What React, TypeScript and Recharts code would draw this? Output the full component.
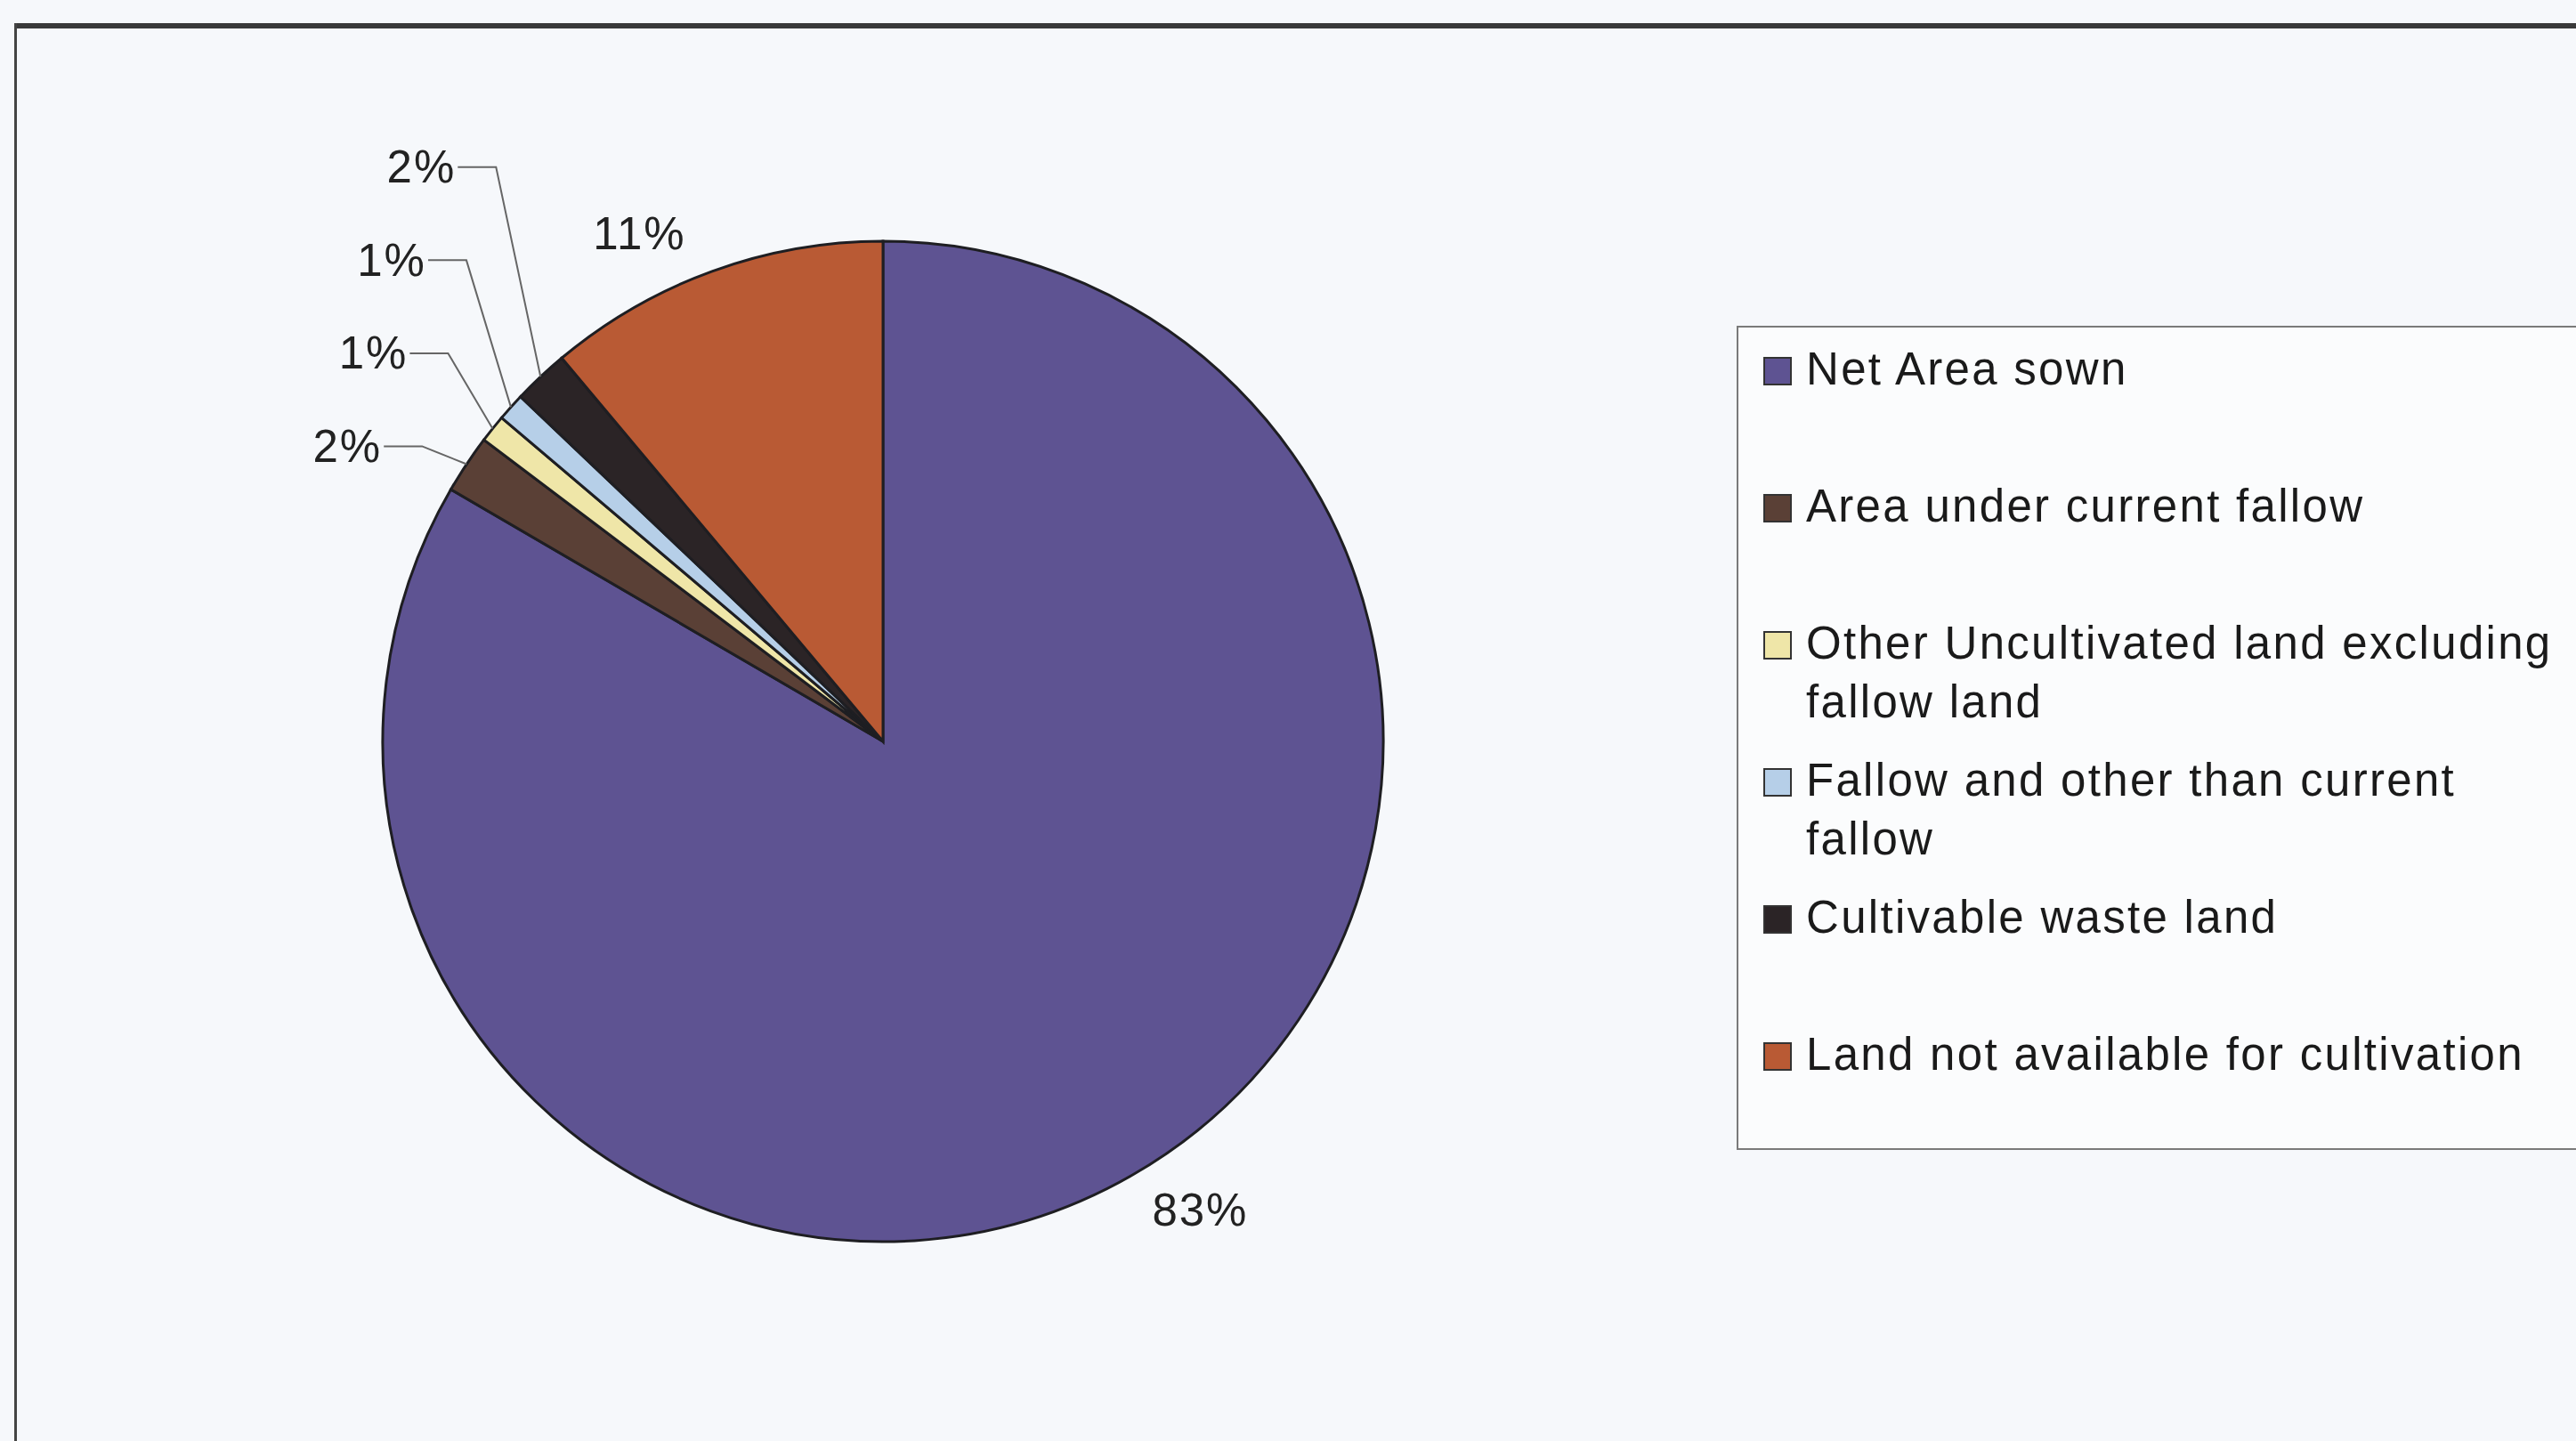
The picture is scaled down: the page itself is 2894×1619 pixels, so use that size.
import React from 'react';
import { PieChart, Pie, Cell, Legend } from 'recharts';

const categories = [
  'Net Area sown',
  'Area under current fallow',
  'Other Uncultivated land excluding fallow land',
  'Fallow and other than current fallow',
  'Cultivable waste land',
  'Land not available for cultivation',
];
const shares = [83.4, 1.9, 0.9, 0.9, 1.8, 11.1];
const colors = ['#5e5392', '#5a4036', '#efe6a8', '#b6cfe8', '#2b2426', '#b95a34'];

const data = categories.map((name, i) => ({ name, value: shares[i] }));

const RAD = Math.PI / 180;
const FONT = '"Liberation Sans", Arial, sans-serif';

const renderLabel = (props: any) => {
  const { cx, cy, midAngle, outerRadius, percent, index } = props;
  const text = `${Math.round(percent * 100)}%`;
  const cos = Math.cos(-midAngle * RAD);
  const sin = Math.sin(-midAngle * RAD);

  if (percent >= 0.05) {
    const r = outerRadius * 1.08;
    const left = cos < 0;
    return (
      <text
        x={cx + r * cos + (left ? -14 : 0)}
        y={cy + r * sin}
        textAnchor={left ? 'end' : 'start'}
        dominantBaseline="central"
        fill="#222"
        fontSize={51}
        letterSpacing={2}
        fontFamily={FONT}
      >
        {text}
      </text>
    );
  }

  // small slices: stacked to the upper left with elbow leader lines
  const k = index - 1;
  const rimX = cx + outerRadius * cos;
  const rimY = cy + outerRadius * sin;
  const ly = cy - outerRadius * (0.59 + 0.186 * k);
  const elbowX = rimX - 50;
  const textX = elbowX - 45;
  return (
    <g>
      <polyline
        points={`${textX + 2},${ly} ${elbowX},${ly} ${rimX},${rimY}`}
        fill="none"
        stroke="#666"
        strokeWidth={2}
      />
      <text
        x={textX}
        y={ly}
        textAnchor="end"
        dominantBaseline="central"
        fill="#222"
        fontSize={51}
        letterSpacing={2}
        fontFamily={FONT}
      >
        {text}
      </text>
    </g>
  );
};

const renderLegend = () => (
  <div
    style={{
      border: '2px solid #7a7a7a',
      borderRight: 'none',
      height: 926,
      boxSizing: 'border-box',
      paddingTop: 14,
      fontFamily: FONT,
      background: '#fbfcfd',
    }}
  >
    {categories.map((name, i) => (
      <div key={name} style={{ display: 'flex', alignItems: 'flex-start', height: 154 }}>
        <div
          style={{
            width: 28,
            height: 28,
            marginLeft: 28,
            marginTop: 19,
            background: colors[i],
            border: '2px solid #333',
            flexShrink: 0,
          }}
        />
        <div
          style={{
            marginLeft: 16,
            fontSize: 51,
            letterSpacing: 2.3,
            lineHeight: '66px',
            color: '#1a1a1a',
            width: 872,
          }}
        >
          {name}
        </div>
      </div>
    ))}
  </div>
);

export default function App() {
  return (
    <div
      style={{
        position: 'absolute',
        left: 0,
        top: 0,
        width: 2894,
        height: 1619,
        background: '#f6f8fb',
        overflow: 'hidden',
      }}
    >
      <div style={{ position: 'absolute', left: 16, top: 26, width: 2894, height: 6, background: '#3a3a3a' }} />
      <div style={{ position: 'absolute', left: 16, top: 26, width: 3, height: 1619, background: '#444' }} />
      <PieChart width={2894} height={1619} style={{ position: 'absolute', left: 0, top: 0 }}>
        <Pie
          data={data}
          dataKey="value"
          nameKey="name"
          cx={987}
          cy={828}
          outerRadius={562}
          startAngle={90}
          endAngle={-270}
          stroke="#1e1e22"
          strokeWidth={3}
          label={renderLabel}
          labelLine={false}
          isAnimationActive={false}
        >
          {data.map((d, i) => (
            <Cell key={d.name} fill={colors[i]} />
          ))}
        </Pie>
        <Legend
          layout="vertical"
          content={renderLegend}
          wrapperStyle={{ left: 1951, top: 366, width: 960, height: 926 }}
        />
      </PieChart>
    </div>
  );
}
